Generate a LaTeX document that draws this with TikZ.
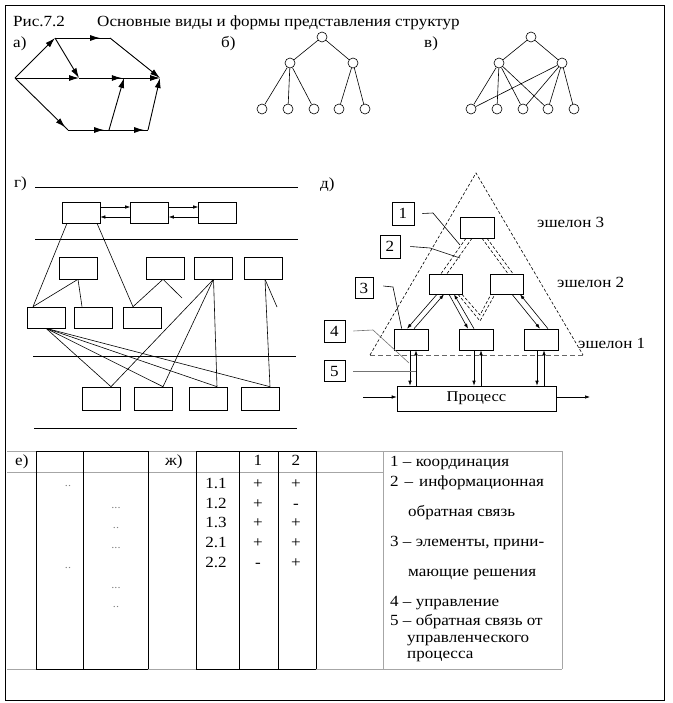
\documentclass[tikz,border=0pt]{standalone}
\usepackage{fontspec}
\setmainfont{Liberation Serif}[FakeStretch=1.1]
\usetikzlibrary{arrows.meta,decorations.markings}
\begin{document}
\begin{tikzpicture}[x=1pt,y=-1pt,
  txt/.style={font=\fontsize{15.5}{18}\selectfont, inner sep=0pt},
  ln/.style={line width=0.6pt},
  aln/.style={line width=0.9pt},
  bigtip/.style={-{Latex[length=10pt,width=6pt]}},
  midtip/.style={postaction={decorate},decoration={markings,mark=at position #1 with {\arrow{Latex[length=10pt,width=6pt]}}}},
  smtip/.style={-{Latex[length=5pt,width=3.5pt]}},
  circ/.style={circle,draw,line width=0.6pt,minimum size=10pt,inner sep=0pt},
  gbox/.style={draw,line width=0.6pt,minimum width=38pt,minimum height=21pt,inner sep=0pt},
  dbox/.style={draw,line width=0.6pt,minimum width=34pt,minimum height=21pt,inner sep=0pt},
  numbox/.style={draw,line width=0.6pt,inner sep=0pt,font=\fontsize{15.5}{18}\selectfont},
  dsh/.style={line width=0.6pt,dash pattern=on 3pt off 2pt},
  grayln/.style={draw=black!35,line width=0.8pt},
  dots/.style={font=\fontsize{11}{12}\selectfont,text=black!50,inner sep=0pt,anchor=base},
]
\useasboundingbox (0,0) rectangle (672,703);
\draw[line width=0.8pt] (5,5) rectangle (664,700);

% title and labels
\node[txt,anchor=base west] (title1) at (13,27) {Рис.7.2};
\node[txt,anchor=base west] (title2) at (97,27) {Основные виды и формы представления структур};
\node[txt,anchor=base west] (la) at (13,48) {а)};
\node[txt,anchor=base west] (lb) at (221,48) {б)};
\node[txt,anchor=base west] (lv) at (424,48) {в)};

% graph a
\coordinate (A) at (15,78);
\coordinate (B) at (55,38);
\coordinate (C) at (110,38);
\coordinate (D) at (79,78);
\coordinate (E) at (124,78);
\coordinate (F) at (160,78);
\coordinate (G) at (68,130);
\coordinate (H) at (109,130);
\coordinate (I) at (148,130);
\draw[aln,bigtip] (A) -- (B);
\draw[aln,midtip=0.82] (B) -- (C);
\draw[aln,bigtip] (C) -- (F);
\draw[aln,bigtip] (B) -- (D);
\draw[aln,bigtip] (A) -- (D);
\draw[aln,midtip=0.95] (D) -- (E);
\draw[aln,bigtip] (E) -- (F);
\draw[aln,midtip=0.95] (A) -- (G);
\draw[aln,midtip=0.88] (G) -- (H);
\draw[aln,bigtip] (H) -- (E);
\draw[aln,midtip=0.9] (H) -- (I);
\draw[aln,bigtip] (I) -- (F);

% graph b
\node[circ] (b0) at (322,37) {};
\node[circ] (b1) at (290,63) {};
\node[circ] (b2) at (353,63) {};
\node[circ] (b11) at (262,109) {};
\node[circ] (b12) at (288,109) {};
\node[circ] (b13) at (314,109) {};
\node[circ] (b21) at (339,109) {};
\node[circ] (b22) at (365,109) {};
\draw[ln] (b0)--(b1) (b0)--(b2) (b1)--(b11) (b1)--(b12) (b1)--(b13) (b2)--(b21) (b2)--(b22);

% graph v
\node[circ] (v0) at (531,37) {};
\node[circ] (v1) at (499,63) {};
\node[circ] (v2) at (562,63) {};
\node[circ] (v3) at (471,109) {};
\node[circ] (v4) at (497,109) {};
\node[circ] (v5) at (523,109) {};
\node[circ] (v6) at (548,109) {};
\node[circ] (v7) at (574,109) {};
\draw[ln] (v0)--(v1) (v0)--(v2) (v1)--(v3) (v1)--(v4) (v1)--(v5) (v1)--(v6)
          (v2)--(v3) (v2)--(v5) (v2)--(v6) (v2)--(v7);

% panel g
\node[txt,anchor=base west] (lg) at (14,188) {г)};
\draw[ln] (35,187) -- (298,187);
\draw[ln] (35,239) -- (298,239);
\draw[ln] (33,356) -- (296,356);
\draw[ln] (34,428) -- (297,428);
\node[gbox] (T1) at (81,212.5) {};
\node[gbox] (T2) at (149.5,212.5) {};
\node[gbox] (T3) at (217.5,212.5) {};
\node[gbox,minimum height=22pt] (M1) at (78,268) {};
\node[gbox,minimum height=22pt] (M2) at (165,268) {};
\node[gbox,minimum height=22pt] (M3) at (213.5,268) {};
\node[gbox,minimum height=22pt] (M4) at (263,268) {};
\node[gbox] (N1) at (46,317.5) {};
\node[gbox] (N2) at (93.5,317.5) {};
\node[gbox] (N3) at (142.5,317.5) {};
\node[gbox,minimum height=23pt] (B1) at (101,398.5) {};
\node[gbox,minimum height=23pt] (B2) at (153.5,398.5) {};
\node[gbox,minimum height=23pt] (B3) at (208,398.5) {};
\node[gbox,minimum height=23pt] (B4) at (260.5,398.5) {};
\draw[ln,smtip] ([yshift=5.5pt]T1.east) -- ([yshift=5.5pt]T2.west);
\draw[ln,smtip] ([yshift=-4.5pt]T2.west) -- ([yshift=-4.5pt]T1.east);
\draw[ln,smtip] ([yshift=5.5pt]T2.east) -- ([yshift=5.5pt]T3.west);
\draw[ln,smtip] ([yshift=-4.5pt]T3.west) -- ([yshift=-4.5pt]T2.east);
\draw[ln] ([xshift=-14pt]T1.south) -- ([xshift=-13pt]N1.north);
\draw[ln] ([xshift=16pt]T1.south) -- ([xshift=-9.5pt]N3.north);
\draw[ln] (M1.south) -- ([xshift=-13pt]N1.north);
\draw[ln] (M1.south) -- ([xshift=-11.5pt]N2.north);
\draw[ln] ([xshift=-2pt]M2.south) -- ([xshift=-9.5pt]N3.north);
\coordinate (g1) at (182,298);
\draw[ln] ([xshift=-2pt]M2.south) -- (g1);
\draw[ln] (M3.south) -- ([xshift=10pt]B1.north);
\draw[ln] (M3.south) -- ([xshift=9.5pt]B2.north);
\draw[ln] (M3.south) -- ([xshift=9pt]B3.north);
\draw[ln] ([xshift=2pt]M4.south) -- ([xshift=9.5pt]B4.north);
\coordinate (g2) at (277,307);
\draw[ln] ([xshift=2pt]M4.south) -- (g2);
\draw[ln] (N1.south) -- ([xshift=10pt]B1.north);
\draw[ln] (N1.south) -- ([xshift=9.5pt]B2.north);
\draw[ln] (N1.south) -- ([xshift=9pt]B3.north);
\draw[ln] (N1.south) -- ([xshift=9.5pt]B4.north);

% panel d
\node[txt,anchor=base west] (ld) at (320,189) {д)};
\coordinate (ap) at (476,173);
\coordinate (bl) at (370,355);
\coordinate (br) at (583,355);
\draw[dsh] (bl) -- (ap) -- (br);
\draw[line width=1pt,black!60,dash pattern=on 5pt off 3pt] (bl) -- (br);
\node[dbox] (E3) at (477,227.5) {};
\node[dbox,minimum width=33pt,minimum height=20pt] (E2a) at (445.5,284) {};
\node[dbox,minimum width=33pt,minimum height=20pt] (E2b) at (507,284) {};
\node[dbox] (E1a) at (411,339.5) {};
\node[dbox] (E1b) at (476,339.5) {};
\node[dbox] (E1c) at (541,339.5) {};
\node[draw,line width=0.6pt,minimum width=159pt,minimum height=25pt,inner sep=0pt,font=\fontsize{15}{18}\selectfont] (P) at (476.5,398.5) {Процесс};
% vertical arrows
\draw[ln,smtip] ([xshift=-1pt]E1a.south) -- ([xshift=-1pt]E1a.south |- P.north);
\draw[ln,smtip] ([xshift=5pt]E1a.south |- P.north) -- ([xshift=5pt]E1a.south);
\draw[ln,smtip] ([xshift=-2pt]E1b.south) -- ([xshift=-2pt]E1b.south |- P.north);
\draw[ln,smtip] ([xshift=5pt]E1b.south |- P.north) -- ([xshift=5pt]E1b.south);
\draw[ln,smtip] ([xshift=-4pt]E1c.south) -- ([xshift=-4pt]E1c.south |- P.north);
\draw[ln,smtip] ([xshift=3pt]E1c.south |- P.north) -- ([xshift=3pt]E1c.south);
% diagonal arrows
\draw[ln,smtip] ([xshift=-8.5pt]E2a.south) -- ([xshift=-4pt]E1a.north);
\draw[ln,smtip] ([xshift=3pt]E1a.north) -- ([xshift=-1.5pt]E2a.south);
\draw[ln,smtip] ([xshift=3.5pt]E2a.south) -- ([xshift=-8pt]E1b.north);
\draw[ln,smtip] ([xshift=-2pt]E1b.north) -- ([xshift=8.5pt]E2a.south);
\draw[ln,smtip] ([xshift=5pt]E2b.south) -- ([xshift=-1pt]E1c.north);
\draw[ln,smtip] ([xshift=7pt]E1c.north) -- ([xshift=13pt]E2b.south);
% dashed coordination / feedback
\coordinate (vn1) at (480,321);
\coordinate (vn2) at (480,315);
\draw[dsh] ([xshift=12.5pt]E2a.south) -- (vn1) -- ([xshift=-12pt]E2b.south);
\draw[dsh] ([xshift=16.5pt]E2a.south) -- (vn2) -- ([xshift=-16pt]E2b.south);
\draw[dsh] ([xshift=-11pt]E3.south) -- ([xshift=-4.5pt]E2a.north);
\draw[dsh] ([xshift=-5pt]E3.south) -- ([xshift=1.5pt]E2a.north);
\draw[dsh] ([xshift=5pt]E3.south) -- ([xshift=1pt]E2b.north);
\draw[dsh] ([xshift=10pt]E3.south) -- ([xshift=6pt]E2b.north);
% input / output
\coordinate (pin) at (363,397);
\coordinate (pout) at (590,397);
\draw[ln,smtip] (pin) -- (pin -| P.west);
\draw[ln,smtip] (P.east |- pout) -- (pout);
% number boxes
\node[numbox,minimum width=22pt,minimum height=23pt] (n1) at (403,213.5) {1};
\node[numbox,minimum width=20pt,minimum height=23pt] (n2) at (390,246.5) {2};
\node[numbox,minimum width=18pt,minimum height=21pt] (n3) at (364,288) {3};
\node[numbox,minimum width=21pt,minimum height=22pt] (n4) at (334.5,331) {4};
\node[numbox,minimum width=21pt,minimum height=21pt] (n5) at (334.5,371) {5};
\coordinate (p1a) at (433,213);
\coordinate (p1b) at (460,245);
\draw[ln] ([xshift=8pt]n1.east) -- (p1a) -- (p1b);
\coordinate (p2a) at (430,248);
\coordinate (p2b) at (460,258);
\draw[ln] ([xshift=10pt]n2.east) -- (p2a) -- (p2b);
\coordinate (p3a) at (393,287);
\draw[ln] ([xshift=10pt,yshift=2pt]n3.east) -- (p3a) -- ([xshift=8pt]E1a.north west);
\coordinate (p4a) at (373,330);
\coordinate (p4b) at (409,363);
\draw[ln,black!55] ([xshift=8pt]n4.east) -- (p4a) -- (p4b);
\coordinate (p5b) at (416,371);
\draw[ln,black!55] ([xshift=8pt]n5.east) -- (p5b);
\node[txt,anchor=base west] (e3) at (537,228) {эшелон 3};
\node[txt,anchor=base west] (e2) at (557,287) {эшелон 2};
\node[txt,anchor=base west] (e1) at (578,348) {эшелон 1};

% tables
\draw[grayln] (7,451) -- (562,451);
\draw[grayln] (7,472) -- (383,472);
\draw[grayln] (7,669) -- (562,669);
\draw[grayln] (383,451) -- (383,669);
\draw[grayln] (562,451) -- (562,669);
\foreach \xx in {36,83,148,196,239,278,316} \draw[line width=0.8pt] (\xx,451) -- (\xx,669);
\draw[line width=0.8pt] (36,451) -- (148,451) (196,451) -- (316,451);
\draw[line width=0.8pt] (36,669) -- (148,669) (196,669) -- (316,669);
\node[txt,anchor=base west] (le) at (15,465) {е)};
\node[txt,anchor=base west] (lzh) at (165,465) {ж)};
\node[txt,anchor=base] (h1) at (258,465) {1};
\node[txt,anchor=base] (h2) at (296,465) {2};
\foreach \r/\yy/\pa/\pb in {1.1/488/+/+, 1.2/508/+/-, 1.3/527/+/+, 2.1/547/+/+, 2.2/567/-/+}{
  \node[txt,anchor=base] at (216,\yy) {\r};
  \node[txt,anchor=base] at (258,\yy) {\pa};
  \node[txt,anchor=base] at (296,\yy) {\pb};
}
\node[dots] (d1) at (68,486) {..};
\node[dots] (d2) at (68,568) {..};
\node[dots] (d3) at (116,508) {...};
\node[dots] (d4) at (116,528) {..};
\node[dots] (d5) at (116,548) {...};
\node[dots] (d6) at (116,588) {...};
\node[dots] (d7) at (116,607) {..};

% legend
\node[txt,anchor=base west] (g1t) at (390,466) {1 – координация};
\node[txt,anchor=base west] (g2t) at (390,486.5) {2\hspace{6pt}–\hspace{6pt}информационная};
\node[txt,anchor=base west] (g2u) at (408,516.5) {обратная связь};
\node[txt,anchor=base west] (g3t) at (390,546.5) {3 – элементы,\hspace{4pt}прини-};
\node[txt,anchor=base west] (g3u) at (408,576.5) {мающие решения};
\node[txt,anchor=base west] (g4t) at (390,606.5) {4 – управление};
\node[txt,anchor=base west] (g5t) at (390,625) {5 – обратная связь от};
\node[txt,anchor=base west] (g5u) at (407,642) {управленческого};
\node[txt,anchor=base west] (g5v) at (407,658) {процесса};
\end{tikzpicture}
\end{document}
